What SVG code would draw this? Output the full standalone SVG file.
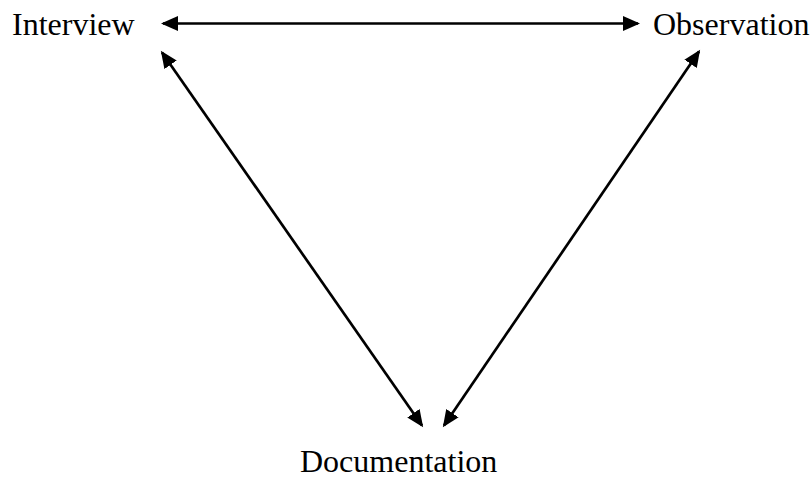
<svg xmlns="http://www.w3.org/2000/svg" width="812" height="480" viewBox="0 0 812 480">
<style>
.lbl{font-family:"Liberation Serif","Times New Roman",serif;font-size:32px;fill:#000}
.conn{stroke:#000;stroke-width:2.7;fill:none;marker-start:url(#ah);marker-end:url(#ah)}
</style>
<defs>
<marker id="ah" markerUnits="userSpaceOnUse" markerWidth="18" markerHeight="16" refX="15" refY="7.5" orient="auto-start-reverse">
<path d="M0,0 L17,7.5 L0,15 Z" fill="#000"/>
</marker>
</defs>
<rect width="812" height="480" fill="#fff"/>
<g id="connectors">
<line class="conn" x1="163" y1="23.5" x2="638" y2="23.5"/>
<line class="conn" x1="162" y1="52.5" x2="422" y2="425.5"/>
<line class="conn" x1="699" y1="51.5" x2="444" y2="425.5"/>
</g>
<g id="interview"><text class="lbl" x="12" y="35">Interview</text></g>
<g id="observation"><text class="lbl" x="653" y="35">Observation</text></g>
<g id="documentation"><text class="lbl" x="300" y="472">Documentation</text></g>
</svg>
